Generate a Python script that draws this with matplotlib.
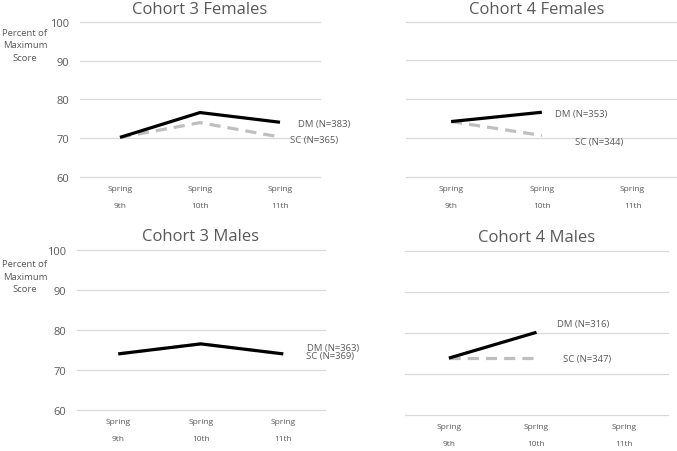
import matplotlib
matplotlib.use("Agg")
import matplotlib.pyplot as plt

# ---- data ----
categories = ["Spring\n9th", "Spring\n10th", "Spring\n11th"]
titles = ["Cohort 3 Females", "Cohort 4 Females", "Cohort 3 Males", "Cohort 4 Males"]
dm_c3f = [70.2, 76.6, 74.1]
sc_c3f = [70.2, 74.0, 70.3]
dm_c4f = [74.2, 76.6]
sc_c4f = [74.2, 70.6]
dm_c3m = [74.0, 76.5, 74.0]
sc_c3m = [74.0, 76.5, 74.0]
dm_c4m = [73.8, 80.1]
sc_c4m = [73.8, 73.8]
dm_labels = ["DM (N=383)", "DM (N=353)", "DM (N=363)", "DM (N=316)"]
sc_labels = ["SC (N=365)", "SC (N=344)", "SC (N=369)", "SC (N=347)"]
yticks = [60, 70, 80, 90, 100]

# ---- layout ----
W, H = 677, 452
fig = plt.figure(figsize=(W / 100, H / 100), dpi=100)
plt.rcParams['font.family'] = ['Open Sans', 'DejaVu Sans']

# (left px, right px, top px(100), bottom px(60))
boxes = [(80, 320, 22.7, 178), (405.7, 678, 22.7, 177.5),
         (77, 324.5, 250.7, 411), (405, 668, 251.7, 415.7)]
dm_sets = [dm_c3f, dm_c4f, dm_c3m, dm_c4m]
sc_sets = [sc_c3f, sc_c4f, sc_c3m, sc_c4m]
dm_pos = [(2.225, 73.8), (1.14, 76.2), (2.29, 75.5), (1.23, 82.2)]
sc_pos = [(2.125, 69.7), (1.36, 69.0), (2.27, 73.5), (1.30, 73.7)]
title_y = [10, 10, 237, 238]

text_col = "#595959"
grid_col = "#d9d9d9"

for i in range(4):
    l, r, t, b = boxes[i]
    ax = fig.add_axes([l / W, 1 - b / H, (r - l) / W, (b - t) / H])
    ax.set_xlim(-0.5, 2.5)
    ax.set_ylim(60, 100)
    ax.set_yticks(yticks)
    ax.grid(axis='y', color=grid_col, lw=0.9, clip_on=False)
    for gl in ax.get_ygridlines():
        gl.set_clip_on(False)
    ax.set_axisbelow(True)
    for s in ax.spines.values():
        s.set_visible(False)
    ax.set_xticks(range(len(categories)))
    ax.set_xticklabels(categories, fontsize=6, color=text_col, linespacing=3.0)
    ax.tick_params(axis='x', length=0, pad=6)
    if i % 2 == 0:
        ax.tick_params(axis='y', length=0, pad=8, labelsize=8, labelcolor=text_col)
    else:
        ax.tick_params(axis='y', length=0, labelleft=False)
    xs_dm = list(range(len(dm_sets[i])))
    xs_sc = list(range(len(sc_sets[i])))
    ax.plot(xs_sc, sc_sets[i], color="#bfbfbf", lw=2.3, dashes=(3.5, 2.2),
            solid_capstyle='butt', dash_capstyle='butt', zorder=2)
    ax.plot(xs_dm, dm_sets[i], color="black", lw=2.3, solid_capstyle='butt', zorder=3)
    ax.text(dm_pos[i][0], dm_pos[i][1], dm_labels[i], fontsize=6.8, color=text_col,
            va='center', ha='left', clip_on=False)
    ax.text(sc_pos[i][0], sc_pos[i][1], sc_labels[i], fontsize=6.8, color=text_col,
            va='center', ha='left', clip_on=False)
    cx = (l + r) / 2 if i % 2 == 0 else (l + min(r, 668)) / 2
    fig.text(cx / W, 1 - title_y[i] / H, titles[i], fontsize=12, color=text_col,
             ha='center', va='center')

for yc in [46, 277]:
    fig.text(25 / W, 1 - yc / H, "Percent of\nMaximum\nScore", fontsize=6.8,
             color=text_col, ha='center', va='center', linespacing=1.5)

fig.savefig("out.png", dpi=100)
